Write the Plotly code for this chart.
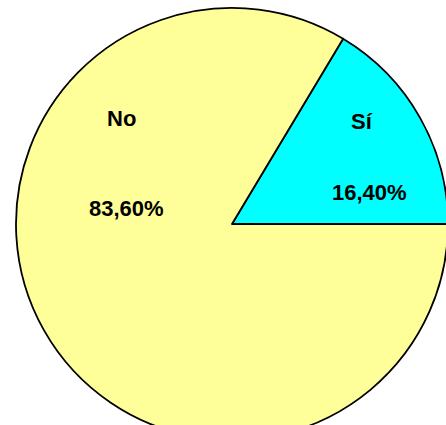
import plotly.graph_objects as go

# Survey answers and their shares (percent)
labels = ["Sí", "No"]
values = [16.40, 83.60]
colors = ["#00FFFF", "#FFFF99"]

# Label anchor points in pixels (name position, value position) per slice
name_pos = [(362, 122), (121, 118)]
value_pos = [(369, 193), (126, 208)]

W, H = 448, 440
ML, MT = 16, 8
PW, PH = W - ML, H - MT


def to_paper(px, py):
    return (px - ML) / PW, 1 - (py - MT) / PH


# First slice ends at 3 o'clock, slices run clockwise from its start
start_angle = 90 - 360 * values[0] / sum(values)

fig = go.Figure(
    go.Pie(
        labels=labels,
        values=values,
        sort=False,
        direction="clockwise",
        rotation=start_angle,
        marker=dict(colors=colors, line=dict(color="black", width=1.8)),
        textinfo="none",
        hoverinfo="label+percent",
        showlegend=False,
    )
)

font = dict(family="Liberation Sans, Arial, sans-serif", size=22, color="black")
for lab, val, npos, vpos in zip(labels, values, name_pos, value_pos):
    x, y = to_paper(*npos)
    fig.add_annotation(x=x, y=y, xref="paper", yref="paper", text=f"<b>{lab}</b>",
                       showarrow=False, font=font, xanchor="center", yanchor="middle")
    x, y = to_paper(*vpos)
    txt = f"{val:.2f}".replace(".", ",") + "%"
    fig.add_annotation(x=x, y=y, xref="paper", yref="paper", text=f"<b>{txt}</b>",
                       showarrow=False, font=font, xanchor="center", yanchor="middle")

fig.update_layout(
    width=W,
    height=H,
    margin=dict(l=ML, r=0, t=MT, b=0, pad=0),
    paper_bgcolor="white",
    plot_bgcolor="white",
)

fig.write_html(
    "out.html",
    config={"displayModeBar": False},
    post_script="document.documentElement.style.overflow='hidden';"
                "document.body.style.overflow='hidden';document.body.style.margin='0';",
)
